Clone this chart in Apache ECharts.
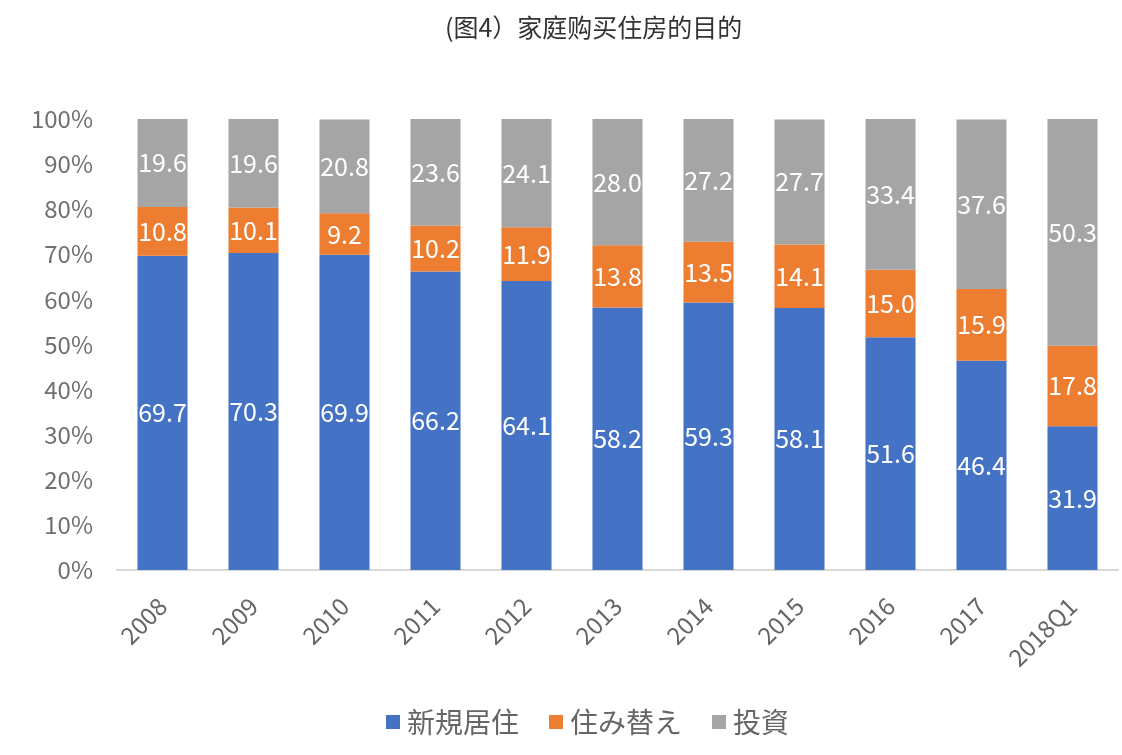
<!DOCTYPE html>
<html>
<head>
<meta charset="utf-8">
<script src="https://cdn.jsdelivr.net/npm/echarts@6/dist/echarts.min.js"></script>
<style>
html, body { margin: 0; padding: 0; background: #fff; }
#main { width: 1122px; height: 755px; }
</style>
</head>
<body>
<div id="main"></div>
<script>
// data
var years = ['2008', '2009', '2010', '2011', '2012', '2013', '2014', '2015', '2016', '2017', '2018Q1'];
var newHome = [69.7, 70.3, 69.9, 66.2, 64.1, 58.2, 59.3, 58.1, 51.6, 46.4, 31.9];
var moveHome = [10.8, 10.1, 9.2, 10.2, 11.9, 13.8, 13.5, 14.1, 15.0, 15.9, 17.8];
var invest = [19.6, 19.6, 20.8, 23.6, 24.1, 28.0, 27.2, 27.7, 33.4, 37.6, 50.3];
var seriesNames = ['新規居住', '住み替え', '投資'];
var colors = ['#4472c4', '#ed7d31', '#a5a5a5'];

var fontFam = '"Noto Sans CJK SC", "Noto Sans", sans-serif';

function makeSeries(name, data, color) {
    return {
        name: name,
        type: 'bar',
        stack: 'total',
        barWidth: '55%',
        data: data,
        itemStyle: { color: color },
        label: {
            show: true,
            position: 'inside',
            color: '#fff',
            fontSize: 25,
            fontFamily: fontFam,
            formatter: function (p) { return p.value.toFixed(1); }
        }
    };
}

var chartDom = document.getElementById('main');
var myChart = echarts.init(chartDom);
var option;

option = {
    title: {
        text: '(图4）家庭购买住房的目的',
        left: 440,
        top: 10,
        textStyle: { fontSize: 25, fontWeight: 'normal', color: '#333', fontFamily: fontFam }
    },
    legend: {
        top: 703,
        left: 381,
        itemWidth: 14,
        itemHeight: 14,
        itemGap: 30,
        icon: 'rect',
        textStyle: { fontSize: 28, color: '#666', fontFamily: fontFam, padding: [0, 0, 0, 2] }
    },
    grid: { left: 117, right: 4, top: 119, bottom: 185 },
    xAxis: {
        type: 'category',
        data: years,
        axisTick: { show: false },
        axisLine: { lineStyle: { color: '#d9d9d9', width: 2 } },
        axisLabel: { rotate: 45, fontSize: 24, color: '#666', margin: 32, fontFamily: fontFam }
    },
    yAxis: {
        type: 'value',
        min: 0,
        max: 100,
        interval: 10,
        splitLine: { show: false },
        axisLine: { show: false },
        axisTick: { show: false },
        axisLabel: { fontSize: 24, color: '#707070', margin: 24, fontFamily: fontFam, formatter: '{value}%' }
    },
    series: [
        makeSeries(seriesNames[0], newHome, colors[0]),
        makeSeries(seriesNames[1], moveHome, colors[1]),
        makeSeries(seriesNames[2], invest, colors[2])
    ]
};

option && myChart.setOption(option);
</script>
</body>
</html>
